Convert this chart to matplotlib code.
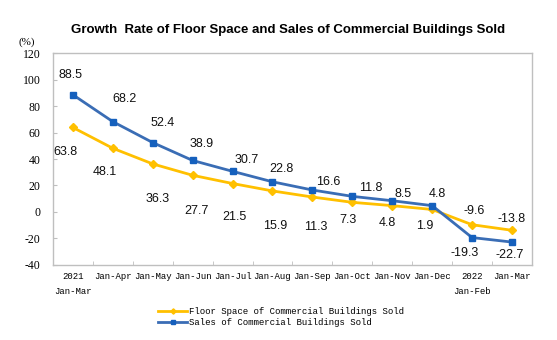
import matplotlib
matplotlib.use('Agg')
from matplotlib import pyplot as plt
import numpy as np

# data
months = ['2021\nJan-Mar', 'Jan-Apr', 'Jan-May', 'Jan-Jun', 'Jan-Jul', 'Jan-Aug',
          'Jan-Sep', 'Jan-Oct', 'Jan-Nov', 'Jan-Dec', '2022\nJan-Feb', 'Jan-Mar']
floor_space = [63.8, 48.1, 36.3, 27.7, 21.5, 15.9, 11.3, 7.3, 4.8, 1.9, -9.6, -13.8]
sales = [88.5, 68.2, 52.4, 38.9, 30.7, 22.8, 16.6, 11.8, 8.5, 4.8, -19.3, -22.7]
y_ticks = [-40, -20, 0, 20, 40, 60, 80, 100, 120]

# where the value labels sit, in pixels from their point (dx, dy up)
sales_offsets = [(-2, 20), (12, 23), (10, 20), (9, 16), (14, 11), (9, 13),
                 (16, 8), (18, 8), (11, 7), (5, 12), (-7, -15), (-2, -13)]
floor_offsets = [(-7, -25), (-8, -24), (5, -35), (4, -36), (2, -33), (3, -35),
                 (3, -30), (-4, -18), (-5, -17), (-7, -17), (2, 14), (0, 11)]

yellow = '#FFC000'
blue_line = '#3A6DB5'
blue_mark = '#1560BD'
frame = '#BFBFBF'

fig = plt.figure(figsize=(5.57, 3.4), dpi=100)
ax = fig.add_axes([0.095, 0.2206, 0.86, 0.6235])

x = np.arange(len(months))
ax.plot(x, floor_space, color=yellow, lw=2, marker='D', ms=4.5,
        mfc=yellow, mec=yellow, label='Floor Space of Commercial Buildings Sold')
ax.plot(x, sales, color=blue_line, lw=2, marker='s', ms=4.2,
        mfc=blue_mark, mec=blue_mark, label='Sales of Commercial Buildings Sold')

for i in range(len(months)):
    ax.annotate(f'{sales[i]:.1f}', (x[i], sales[i]), xytext=sales_offsets[i],
                textcoords='offset pixels', ha='center', va='center',
                fontsize=9, family='Liberation Sans', color='#111111')
    ax.annotate(f'{floor_space[i]:.1f}', (x[i], floor_space[i]), xytext=floor_offsets[i],
                textcoords='offset pixels', ha='center', va='center',
                fontsize=9, family='Liberation Sans', color='#111111')

ax.set_xlim(-0.5, len(months) - 0.5)
ax.set_ylim(-40, 120)
ax.set_yticks(y_ticks)
ax.set_yticklabels([str(v) for v in y_ticks], family='Liberation Serif', fontsize=8.5)
ax.set_xticks(x)
ax.set_xticklabels(months, family='Liberation Mono', fontsize=6.5, linespacing=1.9)
ax.set_xticks(np.arange(0.5, len(months) - 1, 1), minor=True)

ax.tick_params(axis='x', which='major', length=0, pad=5)
ax.tick_params(axis='x', which='minor', direction='in', length=3, color=frame)
ax.tick_params(axis='y', direction='in', length=3, color=frame, pad=9)
for s in ax.spines.values():
    s.set_color(frame)
    s.set_linewidth(1)

fig.text(0.048, 0.876, '(%)', ha='center', va='center',
         family='Liberation Serif', fontsize=8)
fig.text(0.518, 0.912, 'Growth  Rate of Floor Space and Sales of Commercial Buildings Sold',
         ha='center', va='center', family='Liberation Sans', fontsize=9.5, weight='bold')

leg = fig.legend(loc='center', bbox_to_anchor=(0.505, 0.068), frameon=False,
                 prop={'family': 'Liberation Mono', 'size': 6.5},
                 handlelength=3.2, handletextpad=0.2, labelspacing=0.25,
                 borderaxespad=0, markerscale=0.6)

fig.savefig('out.png', dpi=100)
